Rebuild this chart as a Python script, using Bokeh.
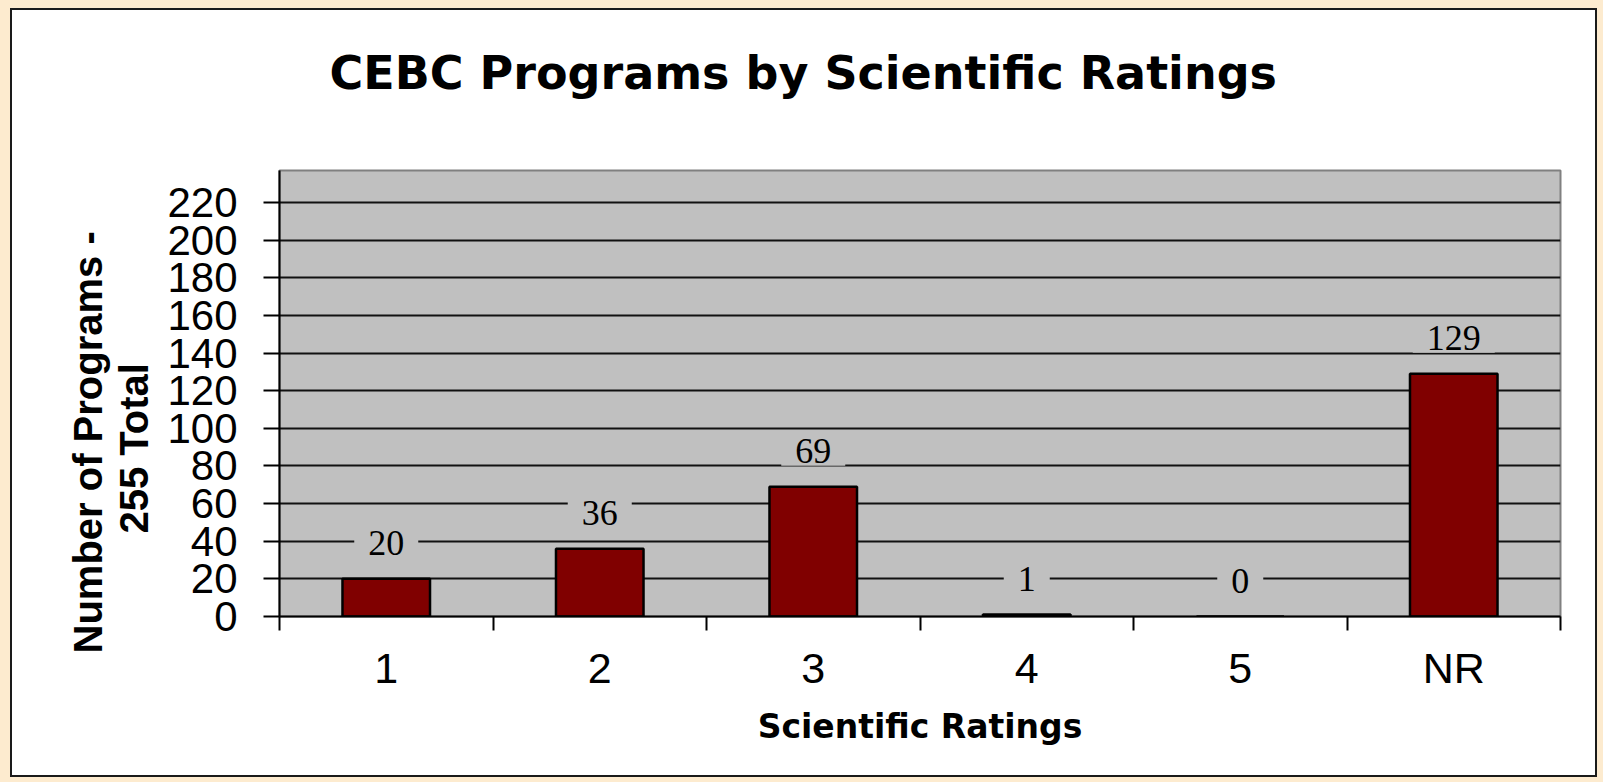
import numpy as np
from bokeh.plotting import figure
from bokeh.models import (ColumnDataSource, LinearAxis, FixedTicker, Range1d,
                          Title, Grid, AllLabels)
from bokeh.core.properties import value
from bokeh.embed import file_html
from bokeh.resources import INLINE

# ---- data ----
categories = ["1", "2", "3", "4", "5", "NR"]
programs = [20, 36, 69, 1, 0, 129]
y_ticks = [0, 20, 40, 60, 80, 100, 120, 140, 160, 180, 200, 220]
title_text = "CEBC Programs by Scientific Ratings"
x_title = "Scientific Ratings"
y_title_line1 = "Number of Programs -"
y_title_line2 = "255 Total"

n = len(categories)
centers = [i + 0.5 for i in range(n)]
source = ColumnDataSource(dict(x=centers, top=programs,
                               label=[str(v) for v in programs]))

p = figure(width=1587, height=769,
           x_range=Range1d(0, n), y_range=Range1d(0, 237),
           output_backend="svg", toolbar_location=None,
           x_axis_type=None, y_axis_type=None,
           min_border_left=267, min_border_right=39,
           min_border_top=160, min_border_bottom=163)
p.styles = {"border": "2px solid #1a1a1a", "margin-left": "10px",
            "margin-top": "8px", "box-shadow": "0 0 0 24px #FDEBCF"}
p.border_fill_color = "white"
p.background_fill_color = "#C0C0C0"
p.outline_line_color = "#808080"
p.outline_line_width = 2

# y axis
yticker = FixedTicker(ticks=y_ticks)
yaxis = LinearAxis(ticker=yticker, major_tick_out=16, major_tick_in=0,
                   minor_tick_out=0, minor_tick_in=0,
                   major_label_standoff=26,
                   major_label_policy=AllLabels(),
                   major_label_text_font="Liberation Sans",
                   major_label_text_font_size="42px",
                   major_label_text_color="black",
                   axis_line_color="black", axis_line_width=2,
                   major_tick_line_color="black", major_tick_line_width=2)
p.add_layout(yaxis, "left")
p.add_layout(Grid(dimension=1, ticker=yticker, grid_line_color="#111111",
                  grid_line_width=2))

# spacer + two-line y axis title (placed in the left panel)
p.add_layout(Title(text=" ", text_font_size="4px", standoff=0), "left")
p.add_layout(Title(text=y_title_line2, align="left", offset=83,
                   vertical_align="top", standoff=0,
                   text_font="Liberation Sans", text_font_style="bold",
                   text_font_size="40px", text_color="black"), "left")
p.add_layout(Title(text=y_title_line1, align="left", offset=-37,
                   vertical_align="bottom", standoff=3,
                   text_font="Liberation Sans", text_font_style="bold",
                   text_font_size="40px", text_color="black"), "left")

# x axis: labels at category centers, tick marks at category boundaries
xticker = FixedTicker(ticks=centers, minor_ticks=list(range(n + 1)))
xaxis = LinearAxis(ticker=xticker,
                   major_label_overrides={c: cat for c, cat in zip(centers, categories)},
                   major_tick_line_color=None,
                   minor_tick_out=14, minor_tick_in=0,
                   minor_tick_line_color="black", minor_tick_line_width=2,
                   axis_line_color="black", axis_line_width=2,
                   major_label_standoff=13,
                   major_label_text_font="Liberation Sans",
                   major_label_text_font_size="43px",
                   major_label_text_color="black",
                   axis_label=x_title, axis_label_standoff=12,
                   axis_label_text_font="DejaVu Sans",
                   axis_label_text_font_style="bold",
                   axis_label_text_font_size="33px",
                   axis_label_text_color="black")
p.add_layout(xaxis, "below")

# bars
p.vbar(x="x", top="top", bottom=0, width=0.41, source=source,
       fill_color="#800000", line_color="black", line_width=2.5)

# data labels
p.text(x="x", y="top", text="label", source=source,
       y_offset=-36, text_align="center", text_baseline="middle",
       text_font=value("Liberation Serif"), text_font_size="36px",
       text_color="black", background_fill_color="#C0C0C0",
       padding=(14, 3))

# spacer + chart title (above)
p.add_layout(Title(text=" ", text_font_size="10px", standoff=56), "above")
p.title.text = title_text
p.title.align = "left"
p.title.offset = 50
p.title.vertical_align = "top"
p.title.standoff = 0
p.title.text_font = "DejaVu Sans"
p.title.text_font_style = "bold"
p.title.text_font_size = "46px"
p.title.text_color = "black"

open("out.html", "w").write(file_html(p, INLINE))
